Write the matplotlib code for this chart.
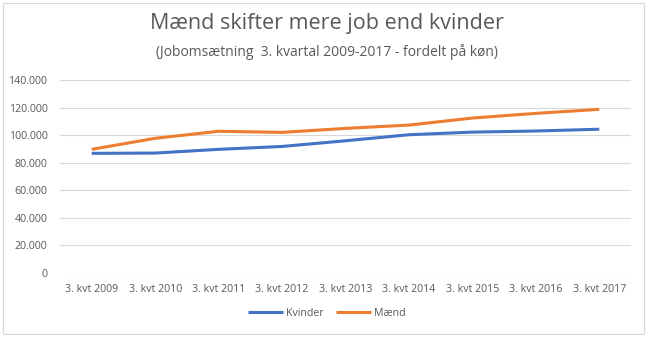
import matplotlib.pyplot as plt
from matplotlib.patches import Rectangle
from matplotlib.ticker import FuncFormatter

plt.rcParams['font.family'] = ['Open Sans', 'DejaVu Sans']

categories = ["3. kvt 2009", "3. kvt 2010", "3. kvt 2011", "3. kvt 2012", "3. kvt 2013",
              "3. kvt 2014", "3. kvt 2015", "3. kvt 2016", "3. kvt 2017"]
kvinder = [86800, 87000, 89700, 91800, 95900, 100300, 102200, 103000, 104300]
maend = [89700, 97700, 102800, 102000, 104900, 107300, 112400, 115800, 118700]

gray = '#595959'

fig = plt.figure(figsize=(6.54, 3.43), dpi=100)
ax = fig.add_axes([60 / 654, 1 - 273 / 343, 571 / 654, 193 / 343])

x = range(len(categories))
ax.plot(x, kvinder, color='#4472C4', lw=2.2, label='Kvinder', solid_capstyle='butt')
ax.plot(x, maend, color='#ED7D31', lw=2.2, label='Mænd', solid_capstyle='butt')

ax.set_xlim(-0.5, len(categories) - 0.5)
ax.set_ylim(0, 140000)
ax.set_yticks(range(0, 140001, 20000))
ax.yaxis.set_major_formatter(FuncFormatter(lambda v, p: f"{int(v):,}".replace(",", ".")))
ax.set_xticks(list(x))
ax.set_xticklabels(categories)
ax.tick_params(length=0, labelsize=7.7, labelcolor=gray, pad=8)
ax.tick_params(axis='y', pad=9)
ax.grid(axis='y', color='#D9D9D9', lw=0.8)
ax.set_axisbelow(True)
for s in ax.spines.values():
    s.set_visible(False)

fig.text(0.5, 1 - 24 / 343, "Mænd skifter mere job end kvinder", ha='center', va='center',
         fontsize=15.5, color=gray)
fig.text(0.5, 1 - 52 / 343, "(Jobomsætning  3. kvartal 2009-2017 - fordelt på køn)", ha='center',
         va='center', fontsize=10, color=gray)

fig.legend(loc='center', bbox_to_anchor=(0.5, 1 - 313 / 343), ncol=2, frameon=False,
           fontsize=7.7, labelcolor=gray, handlelength=3.2, handletextpad=0.3, columnspacing=1.2)

fig.patches.append(Rectangle((3 / 654, 1 - 334 / 343), 641 / 654, 331 / 343,
                             transform=fig.transFigure, fill=False, edgecolor='#D9D9D9', lw=0.8))

fig.savefig("out.png", dpi=100)
